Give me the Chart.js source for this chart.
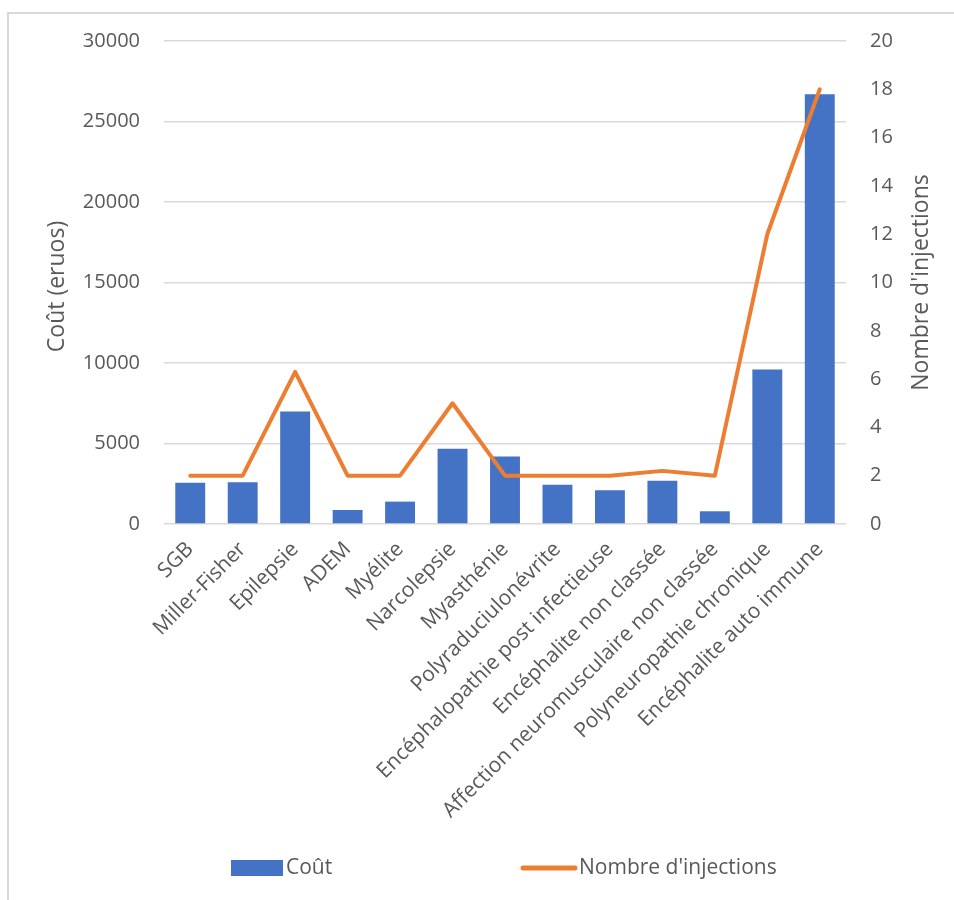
<!DOCTYPE html>
<html lang="fr">
<head>
<meta charset="utf-8">
<title>Coût et nombre d'injections</title>
<script src="https://cdn.jsdelivr.net/npm/chart.js@4.4.1/dist/chart.umd.min.js"></script>
<style>
    html, body { margin: 0; padding: 0; background: #fff; overflow: hidden; }
    #cadre {
        position: absolute; left: 7px; top: 12px; width: 1000px; height: 1000px;
        border-left: 2px solid #d9d9d9; border-top: 2px solid #d9d9d9;
    }
    #zone { position: absolute; left: 0; top: 0; width: 954px; height: 900px; }
</style>
</head>
<body>
<div id="cadre"></div>
<div id="zone"><canvas id="graphique"></canvas></div>
<script>
// Données
const categories = [
    'SGB', 'Miller-Fisher', 'Epilepsie', 'ADEM', 'Myélite', 'Narcolepsie',
    'Myasthénie', 'Polyraduciulonévrite', 'Encéphalopathie post infectieuse',
    'Encéphalite non classée', 'Affection neuromusculaire non classée',
    'Polyneuropathie chronique', 'Encéphalite auto immune'
];
const couts = [2560, 2600, 6980, 870, 1390, 4680, 4200, 2440, 2090, 2690, 790, 9590, 26700];
const injections = [2, 2, 6.3, 2, 2, 5, 2, 2, 2, 2.2, 2, 12, 18];
const ticksCout = [0, 5000, 10000, 15000, 20000, 25000, 30000];
const ticksInjections = [0, 2, 4, 6, 8, 10, 12, 14, 16, 18, 20];

const BLEU = '#4472C4';
const ORANGE = '#ED7D31';
const GRIS_TEXTE = '#595959';
const POLICE = '"Open Sans", "Noto Sans", sans-serif';

// titres des axes et légende dessinés à la main (placement comme dans Excel)
const decorPlugin = {
    id: 'decor',
    afterDraw(chart) {
        const ctx = chart.ctx;
        const area = chart.chartArea;
        const milieu = (area.top + area.bottom) / 2;

        ctx.save();
        ctx.fillStyle = GRIS_TEXTE;
        ctx.font = '23px ' + POLICE;
        ctx.textAlign = 'center';
        ctx.textBaseline = 'middle';

        // titre axe gauche
        ctx.save();
        ctx.translate(57, milieu + 4);
        ctx.rotate(-Math.PI / 2);
        ctx.fillText('Coût (eruos)', 0, 0);
        ctx.restore();

        // titre axe droit (lu de bas en haut)
        ctx.save();
        ctx.translate(921, milieu);
        ctx.rotate(-Math.PI / 2);
        ctx.fillText("Nombre d'injections", 0, 0);
        ctx.restore();

        // légende
        const yLeg = 868;
        ctx.font = '21px ' + POLICE;
        ctx.textAlign = 'left';
        ctx.fillStyle = BLEU;
        ctx.fillRect(231, yLeg - 8, 52, 16);
        ctx.fillStyle = GRIS_TEXTE;
        ctx.fillText(chart.data.datasets[1].label, 286, yLeg);

        ctx.strokeStyle = ORANGE;
        ctx.lineWidth = 5;
        ctx.lineCap = 'round';
        ctx.beginPath();
        ctx.moveTo(523, yLeg);
        ctx.lineTo(575, yLeg);
        ctx.stroke();
        ctx.fillText(chart.data.datasets[0].label, 579, yLeg);
        ctx.restore();
    }
};

const ctx = document.getElementById('graphique').getContext('2d');
new Chart(ctx, {
    data: {
        labels: categories,
        datasets: [{
            type: 'line',
            label: "Nombre d'injections",
            data: injections,
            yAxisID: 'y1',
            borderColor: ORANGE,
            backgroundColor: ORANGE,
            borderWidth: 4,
            borderJoinStyle: 'round',
            borderCapStyle: 'round',
            pointRadius: 0,
            tension: 0,
            fill: false
        }, {
            type: 'bar',
            label: 'Coût',
            data: couts,
            yAxisID: 'y',
            backgroundColor: BLEU,
            borderWidth: 0,
            categoryPercentage: 0.57,
            barPercentage: 1
        }]
    },
    options: {
        responsive: true,
        maintainAspectRatio: false,
        animation: false,
        layout: { padding: { top: 41, left: 0, right: 0, bottom: 0 } },
        plugins: {
            legend: { display: false },
            tooltip: { enabled: false }
        },
        scales: {
            x: {
                grid: { display: false, drawTicks: false },
                border: { display: false },
                ticks: {
                    color: GRIS_TEXTE,
                    font: { family: POLICE, size: 21 },
                    minRotation: 45,
                    maxRotation: 45,
                    autoSkip: false,
                    padding: 13
                },
                afterFit(scale) { scale.height = 376; }
            },
            y: {
                position: 'left',
                min: 0,
                max: 30000,
                afterBuildTicks(scale) { scale.ticks = ticksCout.map(v => ({ value: v })); },
                grid: { color: '#d9d9d9', lineWidth: 1.5, drawTicks: false },
                border: { display: false },
                ticks: {
                    color: GRIS_TEXTE,
                    font: { family: POLICE, size: 20 },
                    padding: 24,
                    callback: v => String(v)
                },
                afterFit(scale) { scale.width = 164; }
            },
            y1: {
                position: 'right',
                min: 0,
                max: 20,
                afterBuildTicks(scale) { scale.ticks = ticksInjections.map(v => ({ value: v })); },
                grid: { display: false, drawTicks: false },
                border: { display: false },
                ticks: {
                    color: GRIS_TEXTE,
                    font: { family: POLICE, size: 20 },
                    padding: 24,
                    callback: v => String(v)
                },
                afterFit(scale) { scale.width = 108; }
            }
        }
    },
    plugins: [decorPlugin]
});
</script>
</body>
</html>
